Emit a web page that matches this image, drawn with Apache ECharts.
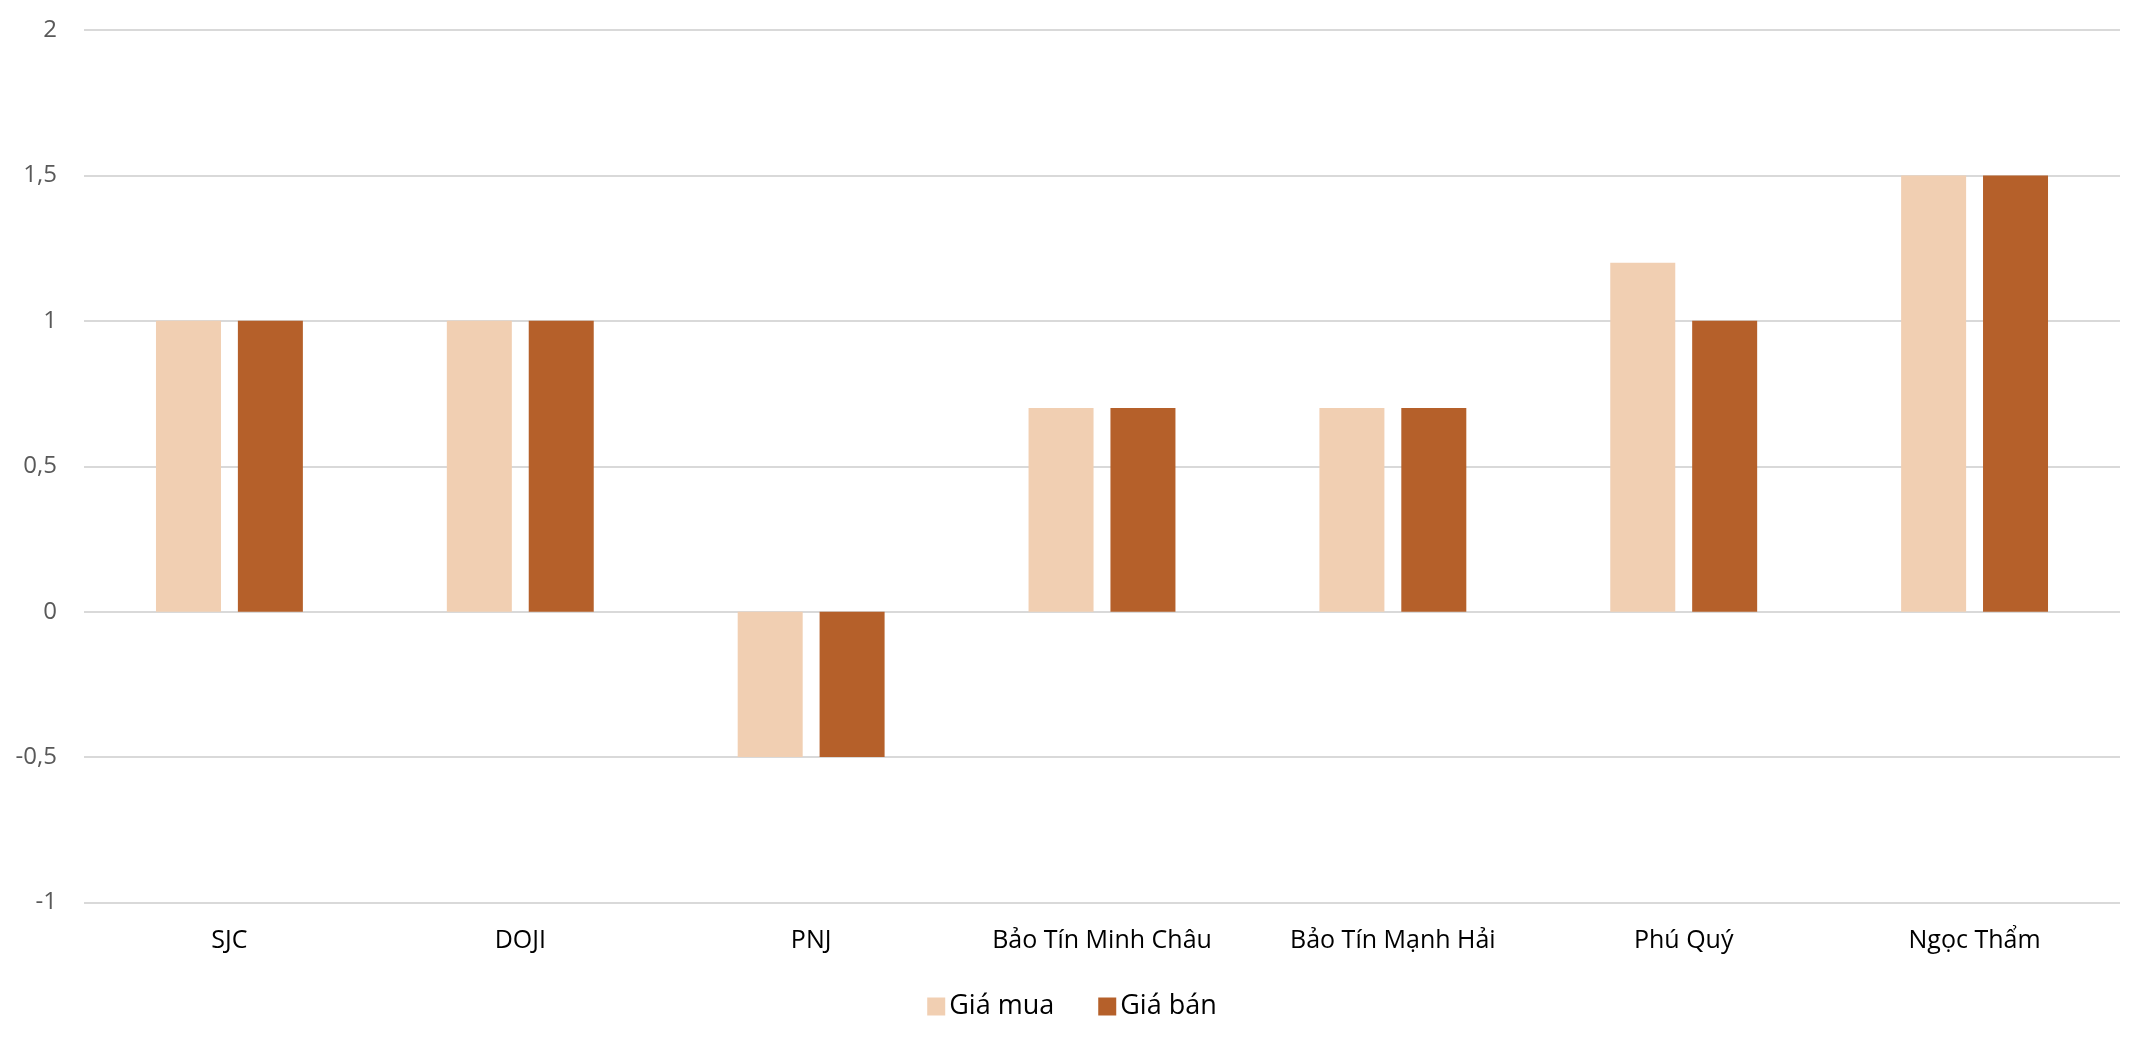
<!DOCTYPE html>
<html>
<head>
<meta charset="utf-8">
<script src="https://cdn.jsdelivr.net/npm/echarts@6/dist/echarts.min.js"></script>
<style>
html,body{margin:0;padding:0;background:#fff;}
#chart{width:2144px;height:1044px;}
</style>
</head>
<body>
<div id="chart"></div>
<script>
const categories = ['SJC', 'DOJI', 'PNJ', 'Bảo Tín Minh Châu', 'Bảo Tín Mạnh Hải', 'Phú Quý', 'Ngọc Thẩm'];
const buyValues = [1, 1, -0.5, 0.7, 0.7, 1.2, 1.5];
const sellValues = [1, 1, -0.5, 0.7, 0.7, 1, 1.5];
const seriesNames = ['Giá mua', 'Giá bán'];

const chart = echarts.init(document.getElementById('chart'));
const font = '"Open Sans", "Noto Sans", sans-serif';
chart.setOption({
  animation: false,
  backgroundColor: '#ffffff',
  grid: { left: 84, right: 24, top: 30, bottom: 141.5, containLabel: false },
  legend: {
    top: 988,
    left: 'center',
    itemWidth: 18,
    itemHeight: 18,
    itemGap: 44,
    icon: 'rect',
    textStyle: { fontFamily: font, fontSize: 27, color: '#000', padding: [0, 0, 0, -1] },
    data: seriesNames
  },
  xAxis: {
    type: 'category',
    data: categories,
    axisLine: { show: false },
    axisTick: { show: false },
    axisLabel: { fontFamily: font, fontSize: 25, color: '#000', margin: 26 }
  },
  yAxis: {
    type: 'value',
    min: -1,
    max: 2,
    interval: 0.5,
    axisLine: { show: false },
    axisTick: { show: false },
    splitLine: { lineStyle: { color: '#d9d9d9', width: 2 } },
    axisLabel: {
      fontFamily: font, fontSize: 24, color: '#595959', margin: 27,
      formatter: v => String(v).replace('.', ',')
    }
  },
  series: [
    {
      name: seriesNames[0], type: 'bar', data: buyValues,
      barWidth: 65, barGap: '26%',
      itemStyle: { color: '#F1CFB2' }
    },
    {
      name: seriesNames[1], type: 'bar', data: sellValues,
      barWidth: 65, barGap: '26%',
      itemStyle: { color: '#B5602A' }
    }
  ]
});
</script>
</body>
</html>
